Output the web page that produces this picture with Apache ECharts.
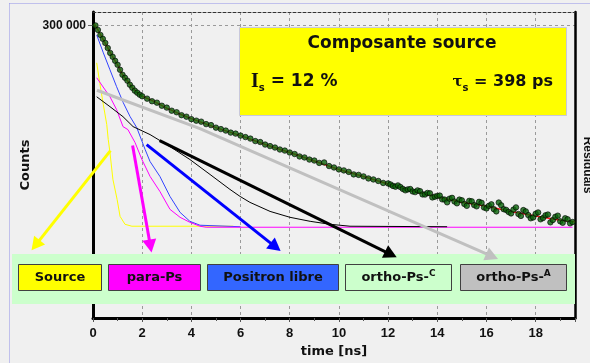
<!DOCTYPE html>
<html>
<head>
<meta charset="utf-8">
<script src="https://cdn.jsdelivr.net/npm/echarts@6/dist/echarts.min.js"></script>
<style>
  html, body { margin: 0; padding: 0; background: #f0f0f0; }
  #chart { width: 590px; height: 363px; }
</style>
</head>
<body>
<div id="chart"></div>
<script>
// Measured lifetime spectrum (time in ns, counts per channel)
const dataTime = [
  0.1, 0.2, 0.3, 0.4, 0.5, 0.6, 0.7, 0.8, 0.9, 1.0,
  1.1, 1.2, 1.3, 1.4, 1.5, 1.6, 1.7, 1.8, 1.9, 2.0,
  2.2, 2.4, 2.6, 2.8, 3.0, 3.2, 3.4, 3.6, 3.8, 4.0,
  4.2, 4.4, 4.6, 4.8, 5.0, 5.2, 5.4, 5.6, 5.8, 6.0,
  6.2, 6.4, 6.6, 6.8, 7.0, 7.2, 7.4, 7.6, 7.8, 8.0,
  8.2, 8.4, 8.6, 8.8, 9.0, 9.2, 9.4, 9.6, 9.8, 10.0,
  10.2, 10.4, 10.6, 10.8, 11.0, 11.2, 11.4, 11.6, 11.8,
  12.0, 12.1, 12.2, 12.3, 12.4, 12.5, 12.6, 12.7, 12.8, 12.9,
  13.0, 13.1, 13.2, 13.3, 13.4, 13.5, 13.6, 13.7, 13.8, 13.9,
  14.0, 14.1, 14.2, 14.3, 14.4, 14.5, 14.6, 14.7, 14.8, 14.9,
  15.0, 15.1, 15.2, 15.3, 15.4, 15.5, 15.6, 15.7, 15.8, 15.9,
  16.0, 16.1, 16.2, 16.3, 16.4, 16.5, 16.6, 16.7, 16.8, 16.9,
  17.0, 17.1, 17.2, 17.3, 17.4, 17.5, 17.6, 17.7, 17.8, 17.9,
  18.0, 18.1, 18.2, 18.3, 18.4, 18.5, 18.6, 18.7, 18.8, 18.9,
  19.0, 19.1, 19.2, 19.3, 19.4, 19.5
];
const dataCounts = [
  302000, 255000, 211000, 182000, 156000, 129000, 107000, 92600, 79600, 68600,
  56800, 47100, 42100, 37700, 32400, 28900, 25900, 24000, 22300, 21000,
  19200, 17400, 16500, 14700, 13700, 12200, 11500, 10300, 9740, 8880,
  8390, 8080, 7360, 7090, 6450, 6100, 5770, 5350, 5150, 4780,
  4520, 4270, 3890, 3750, 3410, 3220, 3050, 2830, 2720, 2530,
  2390, 2180, 2100, 1940, 1870, 1710, 1740, 1520, 1440, 1340,
  1290, 1220, 1110, 1090, 1030, 953, 918, 868, 805,
  790, 760, 719, 700, 733, 690, 643, 610, 631, 640,
  585, 570, 608, 590, 523, 520, 553, 545, 467, 480,
  494, 500, 434, 430, 388, 445, 459, 400, 374, 430,
  418, 365, 340, 410, 403, 350, 334, 395, 381, 320,
  309, 340, 360, 300, 276, 385, 347, 300, 292, 270,
  256, 295, 321, 250, 233, 290, 276, 240, 213, 220,
  252, 265, 205, 215, 238, 245, 183, 200, 225, 235,
  190, 180, 213, 205, 176, 185
];

// Fitted model
const fitTime = [0.05, 0.2, 0.4, 0.6, 0.8, 1.0, 1.2, 1.4, 1.6, 1.8, 2.0, 2.5, 3, 3.5, 4, 5, 6, 7, 8, 9, 10, 11, 12, 13, 14, 15, 16, 17, 18, 19, 19.6];
const fitCounts = [319000, 254600, 181700, 129300, 92600, 68600, 47100, 37700, 28950, 24000, 21030, 17120, 13420, 10900, 9040, 6450, 4780, 3410, 2525, 1837, 1336, 1027, 775, 596, 476, 388, 334, 276, 233, 197, 187];

// Decomposed components
const sourceTime = [0.15, 0.28, 0.42, 0.56, 0.62, 0.69, 0.81, 0.98, 1.10, 1.30, 1.58, 5.7];
const sourceCounts = [73800, 33600, 15300, 7220, 4120, 2530, 918, 434, 229, 170, 158, 158];

const paraTime = [0.15, 0.69, 0.96, 1.22, 1.42, 1.71, 1.99, 2.32, 2.72, 3.13, 3.54, 3.94, 4.35, 4.6, 19.5];
const paraCounts = [42100, 20600, 12700, 6700, 5990, 3680, 1940, 1030, 585, 298, 221, 183, 158, 152, 152];

const freeTime = [0.15, 0.42, 0.69, 0.96, 1.23, 1.51, 1.78, 2.12, 2.32, 2.72, 3.13, 3.54, 3.94, 4.35, 6.0];
const freeCounts = [211000, 107600, 56800, 30100, 16500, 9740, 6450, 2830, 1800, 1030, 485, 266, 190, 164, 155];

const orthoCTime = [0.15, 0.69, 1.22, 1.63, 2.32, 3.13, 3.94, 4.76, 5.57, 5.98, 6.38, 7.2, 8.01, 8.83, 9.64, 10.45, 14.4];
const orthoCCounts = [20600, 14200, 9740, 6700, 4965, 3160, 1944, 1107, 631, 485, 388, 276, 221, 190, 170, 158, 155];

// Axis ticks
const xTickStep = 2;
const yLabelValues = [300000];

// Legend entries and annotation
const componentNames = ['Source', 'para-Ps', 'Positron libre', 'ortho-Ps-C', 'ortho-Ps-A'];
const componentColors = ['#ffff00', '#ff00ff', '#3366ff', '#ccffcc', '#c0c0c0'];
const sourceTitle = 'Composante source';
const sourceIntensity = '12 %';
const sourceLifetime = '398 ps';

// Pointer arrows from the curves down to the legend boxes, as paths in (ns, counts)
const pointerArrows = [
  { color: '#ffff00', path: [[0.71, 2720], [-2.50, 64]] },
  { color: '#ff00ff', path: [[1.61, 3290], [2.38, 59]] },
  { color: '#0000ff', path: [[2.18, 3410], [7.63, 62]] },
  { color: '#000000', path: [[2.71, 3960], [12.35, 49]] },
  { color: '#c0c0c0', path: [[0.16, 26350], [4.35, 6220], [16.47, 46]] }
];

const zip = (xs, ys) => xs.map((x, i) => [x, ys[i]]);

const chart = echarts.init(document.getElementById('chart'), null, { renderer: 'canvas' });

const boldSans = 'DejaVu Sans';
const axisFont = 'Liberation Sans';

// legend band with coloured boxes
const boxes = [
  { x: 18, w: 83 }, { x: 108, w: 92 }, { x: 207, w: 131 }, { x: 345, w: 106 }, { x: 460, w: 106 }
];
const legendGraphics = [{
  type: 'rect', z: 100, silent: true,
  shape: { x: 12, y: 254, width: 563, height: 50 },
  style: { fill: '#ccffcc' }
}];
componentNames.forEach((name, i) => {
  const b = boxes[i];
  legendGraphics.push({
    type: 'rect', z: 101, silent: true,
    shape: { x: b.x + 0.5, y: 264.5, width: b.w, height: 26 },
    style: { fill: componentColors[i], stroke: '#404040', lineWidth: 1 }
  });
  const m = name.match(/^(.*-)([A-Z])$/);
  const text = (m && name.startsWith('ortho')) ? '{m|' + m[1] + '}{s|' + m[2] + '}' : '{m|' + name + '}';
  legendGraphics.push({
    type: 'text', z: 102, silent: true,
    style: {
      x: b.x + b.w / 2 + 0.5, y: 278, align: 'center', verticalAlign: 'middle',
      text: text,
      rich: {
        m: { fontFamily: boldSans, fontWeight: 'bold', fontSize: 13, fill: '#111', lineHeight: 18 },
        s: { fontFamily: boldSans, fontWeight: 'bold', fontSize: 9, fill: '#111', verticalAlign: 'top', lineHeight: 18 }
      }
    }
  });
});

const infoGraphics = [
  {
    type: 'rect', z: 90, silent: true,
    shape: { x: 239.5, y: 27.5, width: 327, height: 88 },
    style: { fill: '#ffff00', stroke: '#c8c8dc', lineWidth: 1 }
  },
  {
    type: 'text', z: 91, silent: true,
    style: {
      x: 402, y: 44, align: 'center', verticalAlign: 'middle', text: sourceTitle,
      fontFamily: boldSans, fontWeight: 'bold', fontSize: 17, fill: '#111'
    }
  },
  {
    type: 'text', z: 91, silent: true,
    style: {
      x: 251, y: 82, align: 'left', verticalAlign: 'middle',
      text: '{i|I}{s|s}{m| = ' + sourceIntensity + '}',
      rich: {
        i: { fontFamily: 'Liberation Serif', fontWeight: 'bold', fontSize: 20, fill: '#111', lineHeight: 22 },
        s: { fontFamily: boldSans, fontWeight: 'bold', fontSize: 10, fill: '#111', verticalAlign: 'bottom', lineHeight: 22 },
        m: { fontFamily: boldSans, fontWeight: 'bold', fontSize: 17, fill: '#111', lineHeight: 22 }
      }
    }
  },
  {
    type: 'text', z: 91, silent: true,
    style: {
      x: 553, y: 82, align: 'right', verticalAlign: 'middle',
      text: '{i|τ}{s|s}{m| = ' + sourceLifetime + '}',
      rich: {
        i: { fontFamily: 'DejaVu Serif', fontWeight: 'bold', fontSize: 15, fill: '#111', lineHeight: 22 },
        s: { fontFamily: boldSans, fontWeight: 'bold', fontSize: 10, fill: '#111', verticalAlign: 'bottom', lineHeight: 22 },
        m: { fontFamily: boldSans, fontWeight: 'bold', fontSize: 16, fill: '#111', lineHeight: 22 }
      }
    }
  }
];

const frameGraphics = [
  { type: 'line', z: 0, silent: true, shape: { x1: 9.5, y1: 3.5, x2: 590, y2: 3.5 },
    style: { stroke: '#9090e8', lineWidth: 1, lineDash: [1, 1] } },
  { type: 'line', z: 0, silent: true, shape: { x1: 9.5, y1: 3.5, x2: 9.5, y2: 363 },
    style: { stroke: '#9090e8', lineWidth: 1, lineDash: [1, 1] } }
];

function componentSeries(xs, ys, color) {
  return {
    type: 'line', data: zip(xs, ys), showSymbol: false, symbol: 'none',
    lineStyle: { color: color, width: 1 }, z: 3, silent: true, animation: false
  };
}

const option = {
  backgroundColor: '#f0f0f0',
  animation: false,
  grid: { left: 93, right: 15, top: 12, bottom: 45, show: false, outerBoundsMode: 'none', containLabel: false },
  xAxis: [
    {
      type: 'value', min: 0, max: 19.6, interval: xTickStep,
      name: 'time [ns]', nameLocation: 'middle', nameGap: 26,
      nameTextStyle: { fontFamily: boldSans, fontWeight: 'bold', fontSize: 13, color: '#111' },
      axisLine: { show: true, onZero: false, lineStyle: { color: '#000', width: 3 } },
      axisTick: { show: true, length: 4, lineStyle: { color: '#555' } },
      minorTick: { show: true, splitNumber: 2, length: 3, lineStyle: { color: '#555' } },
      axisLabel: {
        margin: 9, fontFamily: axisFont, fontWeight: 'bold', fontSize: 13, color: '#111',
        formatter: v => (v % xTickStep === 0 ? String(v) : '')
      },
      splitLine: { show: true, lineStyle: { color: '#9a9a9a', type: [3, 3], width: 1 } }
    },
    {
      type: 'value', min: 0, max: 19.6, position: 'top',
      axisLine: { show: true, onZero: false, lineStyle: { color: '#333', width: 1, type: [3, 2] } },
      axisTick: { show: false }, axisLabel: { show: false }, splitLine: { show: false }
    }
  ],
  yAxis: [
    {
      type: 'log', min: 5, max: 500000,
      name: 'Counts', nameLocation: 'middle', nameGap: 50, nameRotate: 90,
      nameTextStyle: { fontFamily: boldSans, fontWeight: 'bold', fontSize: 13, color: '#111' },
      axisLine: { show: true, onZero: false, lineStyle: { color: '#000', width: 3 } },
      axisTick: { show: true, length: 5, customValues: yLabelValues, lineStyle: { color: '#666' } },
      minorTick: { show: false },
      axisLabel: {
        customValues: yLabelValues, margin: 7,
        fontFamily: axisFont, fontWeight: 'bold', fontSize: 12, color: '#111',
        formatter: v => String(Math.round(v)).replace(/\B(?=(\d{3})+(?!\d))/g, ' ')
      },
      splitLine: { show: true, lineStyle: { color: '#9a9a9a', type: [3, 3], width: 1 } }
    },
    {
      type: 'log', min: 5, max: 500000, position: 'right',
      name: 'Residuals', nameLocation: 'middle', nameGap: 6, nameRotate: -90,
      nameTextStyle: { fontFamily: axisFont, fontWeight: 'bold', fontSize: 12, color: '#111' },
      axisLine: { show: true, onZero: false, lineStyle: { color: '#000', width: 2.5 } },
      axisTick: { show: false }, axisLabel: { show: false }, splitLine: { show: false }, minorTick: { show: false }
    }
  ],
  series: [
    {
      type: 'line', data: zip(fitTime, fitCounts), showSymbol: false, symbol: 'none',
      lineStyle: { color: '#ff1a1a', width: 1.5 }, z: 2, silent: true
    },
    componentSeries(sourceTime, sourceCounts, '#ffff00'),
    componentSeries(freeTime, freeCounts, '#3344ff'),
    componentSeries(paraTime, paraCounts, '#ff00ff'),
    componentSeries(orthoCTime, orthoCCounts, '#000000'),
    {
      type: 'scatter', data: zip(dataTime, dataCounts),
      symbol: 'circle', symbolSize: 5.5, z: 5, silent: true,
      itemStyle: { color: '#0a650a', borderColor: '#000', borderWidth: 0.8 }
    }
  ]
};

chart.setOption(option);

// Arrows are positioned through the axes, then drawn above the legend band
function arrowGraphics(a) {
  const pts = a.path.map(p => chart.convertToPixel({ xAxisIndex: 0, yAxisIndex: 0 }, p));
  const p1 = pts[pts.length - 1], pPrev = pts[pts.length - 2];
  const dx = p1[0] - pPrev[0], dy = p1[1] - pPrev[1];
  const len = Math.sqrt(dx * dx + dy * dy);
  const ux = dx / len, uy = dy / len;
  const headLen = 13, headHalf = 7;
  const bx = p1[0] - ux * headLen, by = p1[1] - uy * headLen;
  const shaft = pts.slice(0, -1).concat([[bx + ux, by + uy]]);
  return [
    { type: 'polyline', z: 110, silent: true,
      shape: { points: shaft },
      style: { stroke: a.color, lineWidth: 3, fill: null, lineJoin: 'round' } },
    { type: 'polygon', z: 110, silent: true,
      shape: { points: [[p1[0], p1[1]], [bx - uy * headHalf, by + ux * headHalf], [bx + uy * headHalf, by - ux * headHalf]] },
      style: { fill: a.color } }
  ];
}
const arrows = [].concat(...pointerArrows.map(arrowGraphics));
chart.setOption({ graphic: [].concat(frameGraphics, infoGraphics, legendGraphics, arrows) });
</script>
</body>
</html>
